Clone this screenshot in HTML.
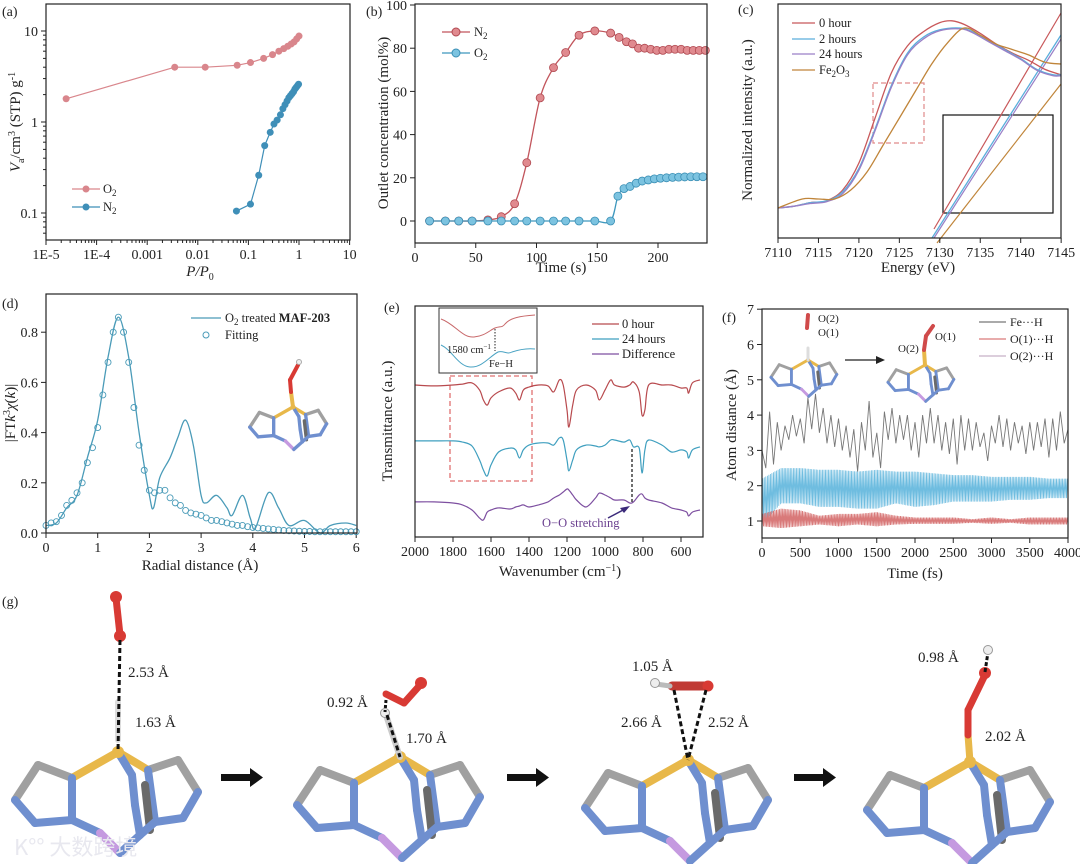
<!DOCTYPE html>
<html><head><meta charset="utf-8">
<style>
html,body{margin:0;padding:0;background:#fff;}
svg{display:block;font-family:"Liberation Serif","Noto Serif CJK SC",serif;}
.t{font-size:14px;fill:#222;}
.ti{font-size:15px;fill:#222;}
.lg{font-size:12.5px;fill:#222;}
.pl{font-size:14px;fill:#222;}
.g{font-size:15px;fill:#222;}
</style></head>
<body>
<svg id="fig" width="1080" height="864" viewBox="0 0 1080 864" xmlns="http://www.w3.org/2000/svg">
<!-- panel labels -->
<text class="pl" x="2" y="16">(a)</text>
<text class="pl" x="366" y="16">(b)</text>
<text class="pl" x="738" y="14">(c)</text>
<text class="pl" x="2" y="308">(d)</text>
<text class="pl" x="384" y="312">(e)</text>
<text class="pl" x="722" y="322">(f)</text>
<text class="pl" x="2" y="606">(g)</text>

<!-- axis titles a -->
<text class="ti" x="200" y="276" text-anchor="middle" font-style="italic">P/P<tspan font-size="10" dy="4" font-style="normal">0</tspan></text>
<text class="ti" transform="translate(20,122) rotate(-90)" text-anchor="middle"><tspan font-style="italic">V</tspan><tspan font-size="10" dy="4">a</tspan><tspan dy="-4">/cm</tspan><tspan font-size="10" dy="-5">3</tspan><tspan dy="5"> (STP) g</tspan><tspan font-size="10" dy="-5">-1</tspan></text>
<g>
<line x1="72" y1="189" x2="100" y2="189" stroke="#d9868c" stroke-width="1.2"/><circle cx="86" cy="189" r="3.5" fill="#d9868c"/>
<text class="lg" x="103" y="193">O<tspan font-size="9" dy="3">2</tspan></text>
<line x1="72" y1="207" x2="100" y2="207" stroke="#3f8fb8" stroke-width="1.2"/><circle cx="86" cy="207" r="3.5" fill="#3f8fb8"/>
<text class="lg" x="103" y="211">N<tspan font-size="9" dy="3">2</tspan></text>
</g>

<!-- b -->
<text class="ti" x="561" y="272" text-anchor="middle">Time (s)</text>
<text class="ti" transform="translate(388,123) rotate(-90)" text-anchor="middle">Outlet concentration (mol%)</text>
<g>
<line x1="442" y1="32" x2="470" y2="32" stroke="#c2555c" stroke-width="1.2"/><circle cx="456" cy="32" r="4" fill="#e08a8f" stroke="#b04850"/>
<text class="lg" x="474" y="36">N<tspan font-size="9" dy="3">2</tspan></text>
<line x1="442" y1="53" x2="470" y2="53" stroke="#3d97bd" stroke-width="1.2"/><circle cx="456" cy="53" r="4" fill="#7cc3e0" stroke="#3a8fb5"/>
<text class="lg" x="474" y="57">O<tspan font-size="9" dy="3">2</tspan></text>
</g>

<!-- c -->
<text class="ti" x="918" y="272" text-anchor="middle">Energy (eV)</text>
<text class="ti" transform="translate(752,120) rotate(-90)" text-anchor="middle">Normalized intensity (a.u.)</text>
<g>
<line x1="792" y1="23" x2="815" y2="23" stroke="#c8585a" stroke-width="1.3"/><text class="lg" x="819" y="27">0 hour</text>
<line x1="792" y1="39" x2="815" y2="39" stroke="#5aaedc" stroke-width="1.3"/><text class="lg" x="819" y="43">2 hours</text>
<line x1="792" y1="54" x2="815" y2="54" stroke="#9a7fc6" stroke-width="1.3"/><text class="lg" x="819" y="58">24 hours</text>
<line x1="792" y1="70" x2="815" y2="70" stroke="#c0853a" stroke-width="1.3"/><text class="lg" x="819" y="74">Fe<tspan font-size="9" dy="3">2</tspan><tspan dy="-3">O</tspan><tspan font-size="9" dy="3">3</tspan></text>
</g>
<rect x="873" y="83" width="51" height="60" fill="none" stroke="#e08a8a" stroke-width="1.2" stroke-dasharray="5,3"/>
<g>
<rect x="943" y="115" width="110" height="98" fill="none" stroke="#111" stroke-width="1.2"/>
<line x1="934" y1="229" x2="1061" y2="13" stroke="#c8585a" stroke-width="1.2"/>
<line x1="932" y1="238" x2="1061" y2="35" stroke="#5aaedc" stroke-width="1.3"/>
<line x1="934" y1="238" x2="1061" y2="39" stroke="#9a7fc6" stroke-width="1.2"/>
<line x1="937" y1="243" x2="1061" y2="84" stroke="#c0853a" stroke-width="1.2"/>
</g>

<!-- d -->
<text class="ti" x="200" y="570" text-anchor="middle">Radial distance (Å)</text>
<text class="ti" transform="translate(15,413) rotate(-90)" text-anchor="middle">|FT<tspan font-style="italic">k</tspan><tspan font-size="10" dy="-5">3</tspan><tspan dy="5" font-style="italic">χ</tspan>(<tspan font-style="italic">k</tspan>)|</text>
<g>
<line x1="191" y1="318" x2="221" y2="318" stroke="#4a9bb8" stroke-width="1.3"/>
<text class="lg" x="225" y="322">O<tspan font-size="9" dy="3">2</tspan><tspan dy="-3"> treated </tspan><tspan font-weight="bold">MAF-203</tspan></text>
<circle cx="206" cy="335" r="3" fill="none" stroke="#4a9bb8"/>
<text class="lg" x="225" y="339">Fitting</text>
</g>

<!-- e -->
<text class="ti" x="560" y="576" text-anchor="middle">Wavenumber (cm<tspan font-size="10" dy="-5">−1</tspan><tspan dy="5">)</tspan></text>
<text class="ti" transform="translate(392,421) rotate(-90)" text-anchor="middle">Transmittance (a.u.)</text>
<g>
<line x1="592" y1="324" x2="619" y2="324" stroke="#b84a4e" stroke-width="1.3"/><text class="lg" x="622" y="328">0 hour</text>
<line x1="592" y1="339" x2="619" y2="339" stroke="#3f9fbf" stroke-width="1.3"/><text class="lg" x="622" y="343">24 hours</text>
<line x1="592" y1="354" x2="619" y2="354" stroke="#7d4fa0" stroke-width="1.3"/><text class="lg" x="622" y="358">Difference</text>
</g>
<g>
<rect x="439" y="308" width="98" height="65" fill="#fff" stroke="#333" stroke-width="1"/>
<path d="M441,319 C455,324 462,338 474,337 C485,336 490,330 495,328 C500,326 502,328 505,324 C510,318 520,316 535,315" fill="none" stroke="#c8686a" stroke-width="1"/>
<path d="M441,345 C452,350 458,366 470,367 C482,368 490,356 498,352 C503,350 507,355 512,352 C518,350 526,348 535,349" fill="none" stroke="#4aa3c3" stroke-width="1"/>
<line x1="495" y1="329" x2="495" y2="351" stroke="#222" stroke-dasharray="1.5,1.5"/>
<text x="447" y="353" font-size="10.5" fill="#222">1580 cm<tspan font-size="7" dy="-4">−1</tspan></text>
<text x="489" y="367" font-size="10.5" fill="#222">Fe−H</text>
</g>
<rect x="450" y="376" width="82" height="105" fill="none" stroke="#e07070" stroke-width="1.3" stroke-dasharray="5,3"/>
<line x1="632" y1="449" x2="632" y2="503" stroke="#222" stroke-width="1.3" stroke-dasharray="3,2"/>
<text x="542" y="527" font-size="12.5" fill="#6a3f8f">O−O stretching</text>
<line x1="608" y1="518" x2="627" y2="508" stroke="#3b2a7a" stroke-width="1.5"/>
<polygon points="630,506 620,508 624,513" fill="#3b2a7a"/>

<!-- f -->
<text class="ti" x="915" y="578" text-anchor="middle">Time (fs)</text>
<text class="ti" transform="translate(736,425) rotate(-90)" text-anchor="middle">Atom distance (Å)</text>
<g>
<line x1="979" y1="322" x2="1006" y2="322" stroke="#777" stroke-width="1.2"/><text x="1010" y="326" font-size="12" fill="#222">Fe···H</text>
<line x1="979" y1="339" x2="1006" y2="339" stroke="#d97a7a" stroke-width="1.2"/><text x="1010" y="343" font-size="12" fill="#222">O(1)···H</text>
<line x1="979" y1="356" x2="1006" y2="356" stroke="#c8b0c8" stroke-width="1.2"/><text x="1010" y="360" font-size="12" fill="#222">O(2)···H</text>
</g>
<g>
<line x1="808" y1="315" x2="807" y2="328" stroke="#d04a4a" stroke-width="4" stroke-linecap="round"/>
<text x="818" y="322" font-size="11" fill="#222">O(2)</text>
<text x="818" y="336" font-size="11" fill="#222">O(1)</text>
<line x1="845" y1="360" x2="878" y2="360" stroke="#222" stroke-width="1.3"/><polygon points="885,360 876,356 876,364" fill="#222"/>
<text x="898" y="352" font-size="11" fill="#222">O(2)</text>
<text x="935" y="340" font-size="11" fill="#222">O(1)</text>
</g>

<!-- g labels -->
<g>
<text class="g" x="128" y="677">2.53 Å</text>
<text class="g" x="135" y="727">1.63 Å</text>
<text class="g" x="327" y="707">0.92 Å</text>
<text class="g" x="406" y="743">1.70 Å</text>
<text class="g" x="632" y="671">1.05 Å</text>
<text class="g" x="621" y="727">2.66 Å</text>
<text class="g" x="708" y="727">2.52 Å</text>
<text class="g" x="918" y="662">0.98 Å</text>
<text class="g" x="985" y="741">2.02 Å</text>
</g>
<g>
<rect x="221" y="774" width="30" height="7" fill="#111"/><polygon points="250,768 263,777.5 250,787" fill="#111"/>
<rect x="507" y="774" width="30" height="7" fill="#111"/><polygon points="536,768 549,777.5 536,787" fill="#111"/>
<rect x="794" y="774" width="30" height="7" fill="#111"/><polygon points="823,768 836,777.5 823,787" fill="#111"/>
</g>
<g id="mols"></g>
<text x="14" y="855" font-size="22" fill="#e8e8ef" font-family="'Noto Sans CJK SC',sans-serif">K°° 大数跨境</text>
</svg>
<script>
// ---------- DATA ----------
const aO2P=[2.5e-5,0.0035,0.014,0.06,0.11,0.2,0.3,0.4,0.5,0.6,0.7,0.8,0.9,1.0];
const aO2V=[1.8,4.0,4.0,4.2,4.5,5.0,5.5,6.0,6.4,6.8,7.2,7.6,8.2,8.8];
const aN2P=[0.058,0.11,0.16,0.21,0.27,0.32,0.37,0.43,0.48,0.53,0.58,0.63,0.68,0.73,0.78,0.83,0.88,0.93,0.98];
const aN2V=[0.105,0.125,0.26,0.55,0.77,0.95,1.05,1.2,1.4,1.55,1.7,1.85,1.95,2.05,2.15,2.3,2.4,2.5,2.6];
const aXTicks=[1e-5,1e-4,1e-3,0.01,0.1,1,10];
const aXLabels=['1E-5','1E-4','0.001','0.01','0.1','1','10'];
const aYTicks=[0.1,1,10];
const aYLabels=['0.1','1','10'];

const bTime=[12,25,36,47,60,71,82,92,103,114,124,135,148,161,168,174,179,184,189,194,199,204,209,214,219,224,229,234,239];
const bN2=[0,0,0,0,0.5,2,8,27,57,71,78,86,88,87,85,83,82,80,80,79.5,79,79,79.5,79.5,79.5,79,79,79,79];
const bO2Time=[12,25,36,47,60,71,82,92,103,114,124,135,148,161,167,172,177,182,187,192,197,202,207,212,217,222,227,232,237];
const bO2=[0,0,0,0,0,0,0,0,0,0,0,0,0,0,11.5,15,16,17.5,18.5,19,19.5,19.8,20,20.2,20.3,20.4,20.5,20.5,20.5];
const bXTicks=[0,50,100,150,200];
const bYTicks=[0,20,40,60,80,100];

const cE0=[7110,7112,7114,7116,7118,7120,7122,7124,7126,7128,7130,7131.5,7133,7135,7137,7139,7141,7143,7145];
const c0h=[0,0.01,0.03,0.04,0.1,0.25,0.5,0.75,0.9,0.98,1.03,1.04,1.02,0.97,0.91,0.86,0.82,0.77,0.74];
const cE2=[7110,7112,7114,7116,7118,7120,7122,7124,7126,7128,7130,7132.5,7134,7136,7138,7140,7142,7144,7145];
const c2h=[0,0.01,0.03,0.04,0.09,0.22,0.44,0.68,0.86,0.95,0.99,1.0,0.98,0.93,0.88,0.83,0.77,0.74,0.74];
const c24h=[0,0.01,0.025,0.035,0.08,0.21,0.43,0.67,0.85,0.94,0.985,0.995,0.975,0.925,0.875,0.825,0.765,0.735,0.735];
const cEf=[7110,7113,7115,7117,7119,7121,7123,7125,7127,7129,7131,7133,7135,7137,7139,7141,7143,7145];
const cFe=[0,0.05,0.05,0.05,0.1,0.2,0.35,0.5,0.65,0.8,0.92,1.0,0.96,0.91,0.88,0.85,0.81,0.8];
const cXTicks=[7110,7115,7120,7125,7130,7135,7140,7145];

const dR=[0,0.2,0.4,0.6,0.8,1.0,1.2,1.4,1.6,1.8,2.0,2.08,2.2,2.4,2.55,2.7,2.85,3.0,3.1,3.3,3.5,3.6,3.8,3.95,4.05,4.3,4.5,4.7,5.0,5.3,5.5,5.8,6.0];
const dData=[0.03,0.04,0.1,0.15,0.3,0.45,0.7,0.86,0.7,0.4,0.15,0.1,0.22,0.3,0.38,0.45,0.35,0.15,0.12,0.15,0.1,0.07,0.15,0.06,0.02,0.16,0.1,0.03,0.05,0.0,0.03,0.04,0.03];
const dFitR=[0,0.1,0.2,0.3,0.4,0.5,0.6,0.7,0.8,0.9,1.0,1.1,1.2,1.3,1.4,1.5,1.6,1.7,1.8,1.9,2.0,2.1,2.2,2.3,2.4,2.5,2.6,2.7,2.8,2.9,3.0,3.1,3.2,3.3,3.4,3.5,3.6,3.7,3.8,3.9,4.0,4.1,4.2,4.3,4.4,4.5,4.6,4.7,4.8,4.9,5.0,5.1,5.2,5.3,5.4,5.5,5.6,5.7,5.8,5.9,6.0];
const dFit=[0.03,0.04,0.045,0.07,0.11,0.13,0.16,0.2,0.28,0.34,0.42,0.55,0.68,0.8,0.86,0.8,0.68,0.5,0.35,0.25,0.17,0.16,0.17,0.17,0.14,0.12,0.11,0.09,0.08,0.075,0.07,0.06,0.05,0.05,0.045,0.04,0.035,0.03,0.03,0.025,0.022,0.02,0.018,0.016,0.014,0.012,0.01,0.009,0.008,0.007,0.006,0.006,0.005,0.005,0.005,0.005,0.005,0.005,0.005,0.005,0.005];
const dXTicks=[0,1,2,3,4,5,6];
const dYTicks=[0,0.2,0.4,0.6,0.8];
const dYLabels=['0.0','0.2','0.4','0.6','0.8'];

const eWn=[2000,1900,1800,1750,1700,1660,1640,1620,1600,1560,1500,1470,1450,1430,1400,1350,1300,1270,1240,1220,1200,1190,1170,1150,1100,1050,1030,1000,970,950,900,870,850,820,805,790,770,700,650,600,570,560,540,500];
const e0h=[65.8,65.4,65.8,66.2,66.7,63.6,59.3,57.1,60.2,62.8,64.5,62.3,59.3,63.6,64.9,65.8,65.4,62.8,68.0,65.8,55.0,47.6,57.1,63.6,65.8,63.6,59.3,63.6,68.0,65.8,64.9,65.8,67.1,62.8,52.8,55.0,65.8,65.8,65.8,64.5,64.5,62.3,66.7,68.0];
const e24h=[41.6,41.6,41.6,41.1,39.4,33.3,29.0,26.4,31.2,36.8,38.5,37.7,34.2,37.7,39.8,40.7,40.7,39.8,42.9,42.0,33.3,28.6,33.3,37.7,39.8,39.4,39.0,39.8,42.0,42.0,41.1,42.0,39.0,38.5,27.7,37.7,42.0,39.8,36.8,37.7,36.8,34.2,37.7,39.0];
const eDiff=[15.2,15.2,14.7,13.9,11.7,8.2,7.4,10.8,11.7,12.6,12.1,13.0,13.4,13.9,13.0,13.9,15.2,16.9,18.2,19.5,20.8,20.3,18.2,16.0,13.0,16.9,19.0,18.2,16.9,16.0,16.0,14.7,15.2,18.2,18.6,16.9,16.0,14.7,12.6,11.7,10.8,9.1,10.8,11.7];
const eXTicks=[2000,1800,1600,1400,1200,1000,800,600];

const fTime=[0,50,100,150,200,250,300,350,400,450,500,550,600,650,700,750,800,850,900,950,1000,1050,1100,1150,1200,1250,1300,1350,1400,1450,1500,1550,1600,1650,1700,1750,1800,1850,1900,1950,2000,2050,2100,2150,2200,2250,2300,2350,2400,2450,2500,2550,2600,2650,2700,2750,2800,2850,2900,2950,3000,3050,3100,3150,3200,3250,3300,3350,3400,3450,3500,3550,3600,3650,3700,3750,3800,3850,3900,3950,4000];
const fFeH=[3.0,2.5,4.1,2.6,3.8,3.0,3.7,3.3,4.0,3.4,3.9,3.2,4.5,3.6,4.6,3.5,4.2,3.2,4.0,3.1,3.9,3.0,3.7,2.8,3.6,2.4,3.8,3.0,4.4,2.8,3.5,2.5,4.1,3.3,4.2,3.2,4.0,3.3,4.0,3.0,3.8,2.8,4.0,3.2,4.2,3.2,4.0,3.0,3.8,2.9,3.9,2.6,4.0,3.0,3.9,3.0,3.8,3.1,3.5,2.7,3.7,3.2,4.0,3.1,3.9,3.0,3.8,3.2,3.7,2.9,3.8,3.0,3.8,3.1,3.9,2.8,3.9,3.0,4.1,3.2,3.6];
const fEnvT=[0,250,500,750,1000,1250,1500,1750,2000,2250,2500,2750,3000,3250,3500,3750,4000];
const fBlueHi=[2.2,2.5,2.5,2.45,2.45,2.4,2.45,2.4,2.4,2.35,2.3,2.3,2.25,2.25,2.25,2.2,2.2];
const fBlueLo=[0.9,1.5,1.5,1.4,1.4,1.35,1.35,1.5,1.4,1.45,1.55,1.55,1.55,1.6,1.6,1.65,1.65];
const fRedHi=[1.2,1.35,1.3,1.15,1.2,1.2,1.25,1.15,1.1,1.1,1.1,1.05,1.1,1.05,1.1,1.1,1.1];
const fRedLo=[0.85,0.8,0.85,0.9,0.85,0.9,0.85,0.9,0.92,0.92,0.92,0.95,0.92,0.95,0.9,0.9,0.9];
const fXTicks=[0,500,1000,1500,2000,2500,3000,3500,4000];
const fYTicks=[1,2,3,4,5,6,7];

// ---------- HELPERS ----------
const NS='http://www.w3.org/2000/svg';
const svg=document.getElementById('fig');
function mk(tag,attrs,name,parent){
  const e=document.createElementNS(NS,tag);
  for(const k in attrs) e.setAttribute(k,attrs[k]);
  
  
  (parent||svg).appendChild(e);
  return e;
}
function label(x,y,str,anchor,name,parent,size){
  const t=mk('text',{x:x,y:y,'text-anchor':anchor,'font-size':size||14,fill:'#222'},name,parent);
  t.textContent=str; return t;
}
function smooth(pts){
  if(pts.length<2) return '';
  let d='M'+pts[0][0].toFixed(1)+','+pts[0][1].toFixed(1);
  for(let i=0;i<pts.length-1;i++){
    const p0=pts[i-1]||pts[i],p1=pts[i],p2=pts[i+1],p3=pts[i+2]||p2;
    const c1=[p1[0]+(p2[0]-p0[0])/6,p1[1]+(p2[1]-p0[1])/6];
    const c2=[p2[0]-(p3[0]-p1[0])/6,p2[1]-(p3[1]-p1[1])/6];
    d+='C'+c1[0].toFixed(1)+','+c1[1].toFixed(1)+' '+c2[0].toFixed(1)+','+c2[1].toFixed(1)+' '+p2[0].toFixed(1)+','+p2[1].toFixed(1);
  }
  return d;
}
function poly(pts){return 'M'+pts.map(p=>p[0].toFixed(1)+','+p[1].toFixed(1)).join('L');}
function frame(x0,y0,x1,y1,name){
  mk('rect',{x:x0,y:y0,width:x1-x0,height:y1-y0,fill:'none',stroke:'#222','stroke-width':1.2},name);
}
function xticks(vals,labels,sx,y,name,g){
  vals.forEach((v,i)=>{
    const x=sx(v);
    mk('line',{x1:x,y1:y,x2:x,y2:y+5,stroke:'#222'},name+'-tick',g);
    label(x,y+19,labels[i],'middle',name+'-label',g);
  });
}
function yticks(vals,labels,sy,x,name,g){
  vals.forEach((v,i)=>{
    const y=sy(v);
    mk('line',{x1:x,y1:y,x2:x-5,y2:y,stroke:'#222'},name+'-tick',g);
    if(labels) label(x-8,y+5,labels[i],'end',name+'-label',g);
  });
}
function clip(id,x,y,w,h){
  const cp=mk('clipPath',{id:id},'clip-'+id);
  mk('rect',{x:x,y:y,width:w,height:h},'clip-rect',cp);
}

// ---------- PANEL A ----------
(function(){
  const g=mk('g',{},'panel-a');
  const xa=v=>46+(Math.log10(v)+5)*50.6, ya=v=>122-Math.log10(v)*91;
  frame(46,4,350,240,'a-plot-frame');
  xticks(aXTicks,aXLabels,xa,240,'a-x',g);
  yticks(aYTicks,aYLabels,ya,46,'a-y',g);
  for(let e=-5;e<1;e++) for(let m=2;m<10;m++){
    const x=xa(m*Math.pow(10,e));
    mk('line',{x1:x,y1:240,x2:x,y2:243,stroke:'#222'},'a-x-minor-tick',g);
  }
  for(let e=-2;e<1;e++) for(let m=2;m<10;m++){
    const v=m*Math.pow(10,e); if(ya(v)<4||ya(v)>240) continue;
    mk('line',{x1:46,y1:ya(v),x2:43,y2:ya(v),stroke:'#222'},'a-y-minor-tick',g);
  }
  const o=aO2P.map((p,i)=>[xa(p),ya(aO2V[i])]);
  mk('path',{d:poly(o),fill:'none',stroke:'#d9868c','stroke-width':1.2},'a-o2-line',g);
  o.forEach(p=>{mk('circle',{cx:p[0],cy:p[1],r:3.5,fill:'#d9868c'},'a-o2-point',g);});
  const n=aN2P.map((p,i)=>[xa(p),ya(aN2V[i])]);
  mk('path',{d:poly(n),fill:'none',stroke:'#3f8fb8','stroke-width':1.2},'a-n2-line',g);
  n.forEach(p=>{mk('circle',{cx:p[0],cy:p[1],r:3.5,fill:'#3f8fb8'},'a-n2-point',g);});
})();

// ---------- PANEL B ----------
(function(){
  const g=mk('g',{},'panel-b');
  const xb=t=>415+t*1.215, yb=v=>221-v*2.16;
  frame(415,4,707,243,'b-plot-frame');
  xticks(bXTicks,bXTicks.map(String),xb,243,'b-x',g);
  yticks(bYTicks,bYTicks.map(String),yb,415,'b-y',g);
  const n=bTime.map((t,i)=>[xb(t),yb(bN2[i])]);
  mk('path',{d:smooth(n),fill:'none',stroke:'#c2555c','stroke-width':1.3},'b-n2-line',g);
  n.forEach(p=>{mk('circle',{cx:p[0],cy:p[1],r:4,fill:'#e08a8f',stroke:'#b04850','stroke-width':0.8},'b-n2-point',g);});
  const o=bO2Time.map((t,i)=>[xb(t),yb(bO2[i])]);
  mk('path',{d:smooth(o),fill:'none',stroke:'#3d97bd','stroke-width':1.3},'b-o2-line',g);
  o.forEach(p=>{mk('circle',{cx:p[0],cy:p[1],r:4,fill:'#7cc3e0',stroke:'#3a8fb5','stroke-width':0.8},'b-o2-point',g);});
})();

// ---------- PANEL C ----------
(function(){
  const g=mk('g',{},'panel-c');
  const xc=e=>778+(e-7110)*8.09, yc=v=>208-v*180;
  frame(778,4,1061,238,'c-plot-frame');
  xticks(cXTicks,cXTicks.map(String),xc,238,'c-x',g);
  const series=[[cE0,c0h,'#c8585a','c-0hour-line'],[cE2,c2h,'#5aaedc','c-2hours-line'],[cE2,c24h,'#9a7fc6','c-24hours-line'],[cEf,cFe,'#c0853a','c-fe2o3-line']];
  series.forEach(s=>{
    const pts=s[0].map((e,i)=>[xc(e),yc(s[1][i])]);
    mk('path',{d:smooth(pts),fill:'none',stroke:s[2],'stroke-width':1.3},s[3],g);
  });
})();

// ---------- PANEL D ----------
(function(){
  const g=mk('g',{},'panel-d');
  const xd=r=>46+r*51.7, yd=v=>533-v*251;
  frame(46,294,357,533,'d-plot-frame');
  xticks(dXTicks,dXTicks.map(String),xd,533,'d-x',g);
  yticks(dYTicks,dYLabels,yd,46,'d-y',g);
  const pts=dR.map((r,i)=>[xd(r),yd(dData[i])]);
  mk('path',{d:smooth(pts),fill:'none',stroke:'#4a9bb8','stroke-width':1.3},'d-data-line',g);
  dFitR.forEach((r,i)=>{mk('circle',{cx:xd(r),cy:yd(dFit[i]),r:3,fill:'none',stroke:'#4a9bb8','stroke-width':0.9},'d-fit-point',g);});
})();

// ---------- PANEL E ----------
(function(){
  const g=mk('g',{},'panel-e');
  const xe=w=>415+(2000-w)*0.19, ye=v=>537-v*2.31;
  frame(415,306,703,537,'e-plot-frame');
  xticks(eXTicks,eXTicks.map(String),xe,537,'e-x',g);
  [[e0h,'#b84a4e','e-0hour-line'],[e24h,'#3f9fbf','e-24hours-line'],[eDiff,'#7d4fa0','e-difference-line']].forEach(s=>{
    const pts=eWn.map((w,i)=>[xe(w),ye(s[0][i])]);
    mk('path',{d:smooth(pts),fill:'none',stroke:s[1],'stroke-width':1.2},s[2],g);
  });
})();

// ---------- PANEL F ----------
(function(){
  const g=mk('g',{},'panel-f');
  const xf=t=>762+t*0.0765, yf=v=>521-(v-1)*35.3;
  clip('fclip',762,309,306,229);
  frame(762,309,1068,538,'f-plot-frame');
  xticks(fXTicks,fXTicks.map(String),xf,538,'f-x',g);
  yticks(fYTicks,fYTicks.map(String),yf,762,'f-y',g);
  const env=(hi,lo)=>{
    const pts=[];
    for(let t=0,k=0;t<=4000;t+=10,k++){
      const j=Math.min(Math.floor(t/250),fEnvT.length-2);
      const f=(t-fEnvT[j])/250;
      const h=hi[j]+(hi[j+1]-hi[j])*f, l=lo[j]+(lo[j+1]-lo[j])*f;
      pts.push([xf(t),yf(k%2?h:l)]);
    }
    return pts;
  };
  mk('path',{d:poly(env(fBlueHi,fBlueLo)),fill:'none',stroke:'#6fbde0','stroke-width':0.8,'clip-path':'url(#fclip)'},'f-o2h-line',g);
  mk('path',{d:poly(env(fRedHi,fRedLo)),fill:'none',stroke:'#d97a7a','stroke-width':0.9,'clip-path':'url(#fclip)'},'f-o1h-line',g);
  const pts=fTime.map((t,i)=>[xf(t),yf(fFeH[i])]);
  mk('path',{d:poly(pts),fill:'none',stroke:'#777','stroke-width':0.9,'clip-path':'url(#fclip)'},'f-feh-line',g);
})();

// ---------- MOLECULES ----------
const molG=document.getElementById('mols');
const P={Fe:[0,0],A:[-46,26],B:[-80,13],C:[-103,48],D:[-83,71],E:[-46,68],F:[-18,81],G:[2,101],H:[22,83],I:[14,23],J:[17,53],R1:[30,18],R2:[60,8],R3:[80,40],R4:[65,66],R5:[37,70],K:[27,33],L:[32,78]};
const BL='#6f8fcf',GR='#a0a0a0',YE='#e8b84a',PU='#c59ae0',DG='#6a6a6a';
const bonds=[['Fe','A',YE],['A','B',GR],['B','C',GR],['C','D',BL],['D','E',BL],['E','A',BL],['E','F',BL],['F','G',PU],['Fe','R1',YE],['R1','R2',GR],['R2','R3',GR],['R3','R4',BL],['R4','R5',BL],['R5','R1',BL],['K','L',DG],['G','H',BL],['H','J',BL],['J','I',BL],['I','Fe',BL],['R5','H',BL]];
function mol(fx,fy,s,name){
  const g=mk('g',{},name,molG);
  bonds.forEach(b=>{
    const p=P[b[0]],q=P[b[1]];
    mk('line',{x1:fx+p[0]*s,y1:fy+p[1]*s,x2:fx+q[0]*s,y2:fy+q[1]*s,stroke:b[2],'stroke-width':8*s,'stroke-linecap':'round'},'bond',g);
  });
  mk('circle',{cx:fx,cy:fy,r:6*s,fill:'#e8b84a'},'fe-atom',g);
  return g;
}
function stick(x1,y1,x2,y2,c,w,name,dash){
  const a={x1:x1,y1:y1,x2:x2,y2:y2,stroke:c,'stroke-width':w,'stroke-linecap':dash?'butt':'round'};
  if(dash) a['stroke-dasharray']=dash;
  return mk('line',a,name,molG);
}
// molecule 1
mol(118,752,1,'g-molecule-1');
stick(116,598,120,635,'#d83a34',7,'g1-o2-molecule');
mk('circle',{cx:116,cy:597,r:6,fill:'#d83a34'},'g1-o-atom',molG);
mk('circle',{cx:120,cy:636,r:6,fill:'#d83a34'},'g1-o-atom',molG);
stick(118,702,118,740,'#dddddd',6,'g1-h-bond');
stick(120,640,118,752,'#111',3,'g1-dashed-bond','5,3');
// molecule 2
mol(400,757,1,'g-molecule-2');
stick(385,712,400,757,'#cccccc',6,'g2-h-bond');
stick(386,694,404,703,'#d83a34',7,'g2-o2-a');
stick(404,703,421,684,'#d83a34',7,'g2-o2-b');
mk('circle',{cx:421,cy:683,r:6,fill:'#d83a34'},'g2-o-atom',molG);
mk('circle',{cx:385,cy:713,r:4.5,fill:'#eee',stroke:'#999'},'g2-h-atom',molG);
stick(386,700,385,712,'#111',3,'g2-dashed-bond','3,2');
stick(387,715,400,757,'#111',3,'g2-dashed-bond-2','5,3');
// molecule 3
mol(688,760,1,'g-molecule-3');
stick(672,686,708,686,'#c03a34',9,'g3-o2-molecule');
mk('circle',{cx:708,cy:686,r:5.5,fill:'#d83a34'},'g3-o-atom',molG);
stick(656,684,670,686,'#bbb',5,'g3-h-bond');
mk('circle',{cx:655,cy:683,r:4.5,fill:'#eee',stroke:'#999'},'g3-h-atom',molG);
stick(674,690,688,760,'#111',3,'g3-dashed-bond-1','5,3');
stick(706,690,688,760,'#111',3,'g3-dashed-bond-2','5,3');
// molecule 4
mol(970,762,1,'g-molecule-4');
stick(970,762,968,735,'#e8b84a',7,'g4-fe-o-bond');
stick(968,735,968,710,'#d83a34',7,'g4-o-lower');
stick(968,710,985,675,'#d83a34',7,'g4-o-o');
mk('circle',{cx:985,cy:673,r:6,fill:'#d83a34'},'g4-o-atom',molG);
stick(985,672,988,652,'#111',3,'g4-dashed-bond','4,2');
mk('circle',{cx:988,cy:650,r:4.5,fill:'#eee',stroke:'#999'},'g4-h-atom',molG);
// insets in d and f
mol(293,407,0.42,'d-inset-molecule');
stick(293,407,291,392,'#e8b84a',4,'d-inset-fe-o');
stick(291,392,290,380,'#d83a34',4,'d-inset-o2');
stick(290,380,298,365,'#d83a34',4,'d-inset-o2b');
mk('circle',{cx:299,cy:362,r:2.5,fill:'#eee',stroke:'#aaa'},'d-inset-h-atom',molG);
mol(808,360,0.36,'f-inset-molecule-1');
stick(808,360,808,348,'#ddd',3,'f-inset-h');
mol(925,365,0.36,'f-inset-molecule-2');
stick(925,365,924,350,'#e8b84a',4,'f-inset-fe-o');
stick(924,350,926,336,'#d04a4a',4,'f-inset-o2');
stick(926,336,933,326,'#d04a4a',4,'f-inset-o2b');
</script>
</body></html>
